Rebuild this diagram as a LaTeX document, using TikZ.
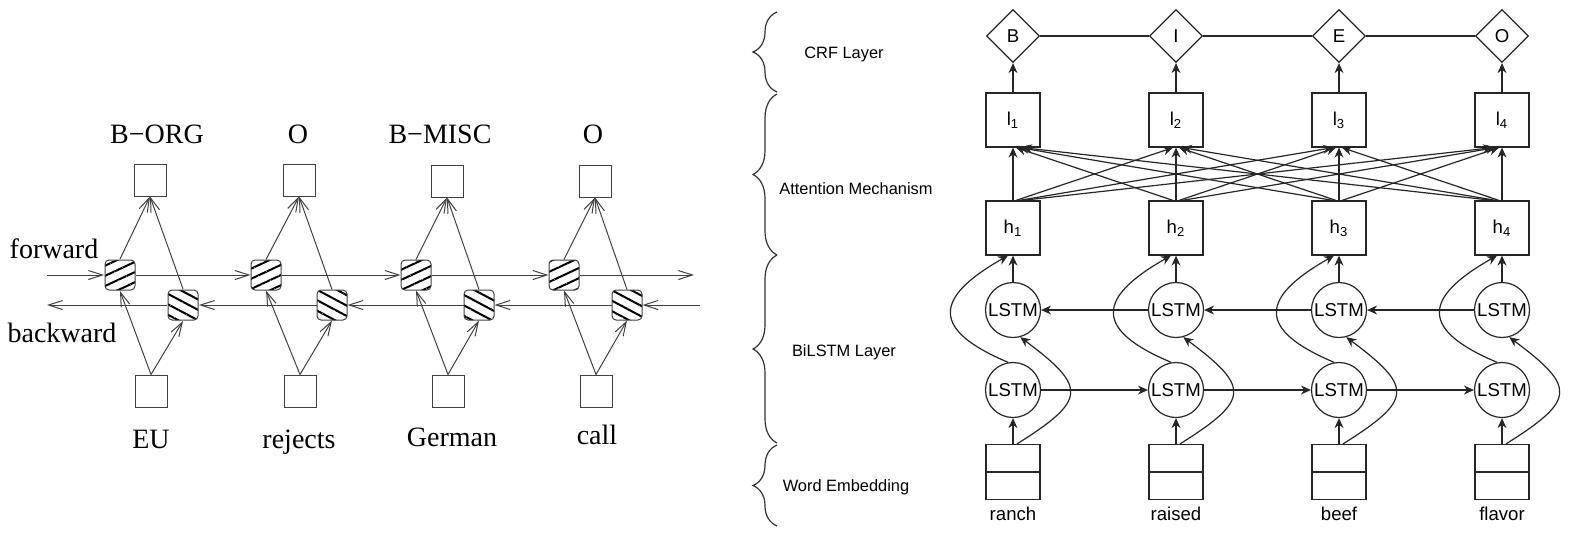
\documentclass[tikz,border=0pt]{standalone}
\usepackage{fontspec}
\setmainfont{Liberation Serif}
\setsansfont{Liberation Sans}
\usetikzlibrary{shapes.geometric, arrows.meta, positioning, calc, patterns.meta, decorations.pathreplacing}
\tikzset{
  tag box/.style={
    rectangle, draw=black!75, line width=0.5pt,
    minimum size=16pt, inner sep=0pt
  },
  fw cell/.style={
    rectangle, rounded corners=2pt, draw=black!75, line width=0.5pt,
    minimum size=15pt, inner sep=0pt,
    pattern={Lines[angle=25, distance=4.6pt, line width=1pt]}
  },
  bw cell/.style={
    fw cell, pattern={Lines[angle=-28, distance=4.6pt, line width=1pt]}
  },
  seq text/.style={
    font=\fontsize{14}{16}\selectfont, inner sep=0pt, anchor=base
  },
  seq arrow/.style={
    -{Straight Barb[length=7pt, width=4.5pt]}, draw=black!75, line width=0.5pt
  },
  crf node/.style={
    diamond, aspect=1, draw=black!85, line width=0.6pt,
    minimum size=26.5pt, inner sep=0pt,
    font=\sffamily\fontsize{9.3}{11}\selectfont
  },
  att box/.style={
    rectangle, draw=black!85, line width=0.6pt,
    minimum size=27pt, inner sep=0pt,
    font=\sffamily\fontsize{9.3}{11}\selectfont
  },
  lstm node/.style={
    circle, draw=black!85, line width=0.6pt,
    minimum size=27.5pt, inner sep=0pt,
    font=\sffamily\fontsize{9.3}{11}\selectfont
  },
  word text/.style={
    font=\sffamily\fontsize{9.3}{11}\selectfont, inner sep=0pt, anchor=base
  },
  layer text/.style={
    font=\sffamily\fontsize{8.2}{10}\selectfont, inner sep=0pt, anchor=base
  },
  layer brace/.style={
    decorate, decoration={brace, amplitude=12pt}, draw=black!80, line width=0.6pt
  },
  nn arrow/.style={
    -{Stealth[length=5pt, width=4.5pt]}, draw=black!85, line width=0.6pt
  },
  crf line/.style={
    draw=black!85, line width=0.6pt
  }
}

\begin{document}
\begin{tikzpicture}[x=0.5pt, y=-0.5pt]
  \useasboundingbox (0,0) rectangle (1574,538);

  % Left: bidirectional tagger
  \node (out1) [tag box] at (150,180) {};
  \node (out2) [tag box] at (299,180) {};
  \node (out3) [tag box] at (447,181) {};
  \node (out4) [tag box] at (595,181) {};
  \node (lab1) [seq text] at (157,143) {B−ORG};
  \node (lab2) [seq text] at (298,143) {O};
  \node (lab3) [seq text] at (440,143) {B−MISC};
  \node (lab4) [seq text] at (593,143) {O};

  \node (fcell1) [fw cell] at (120,275) {};
  \node (fcell2) [fw cell] at (266,275) {};
  \node (fcell3) [fw cell] at (416,275) {};
  \node (fcell4) [fw cell] at (564,275) {};
  \node (bcell1) [bw cell] at (183,305) {};
  \node (bcell2) [bw cell] at (332,305) {};
  \node (bcell3) [bw cell] at (479,305) {};
  \node (bcell4) [bw cell] at (627,305) {};

  \node (in1) [tag box] at (151,391) {};
  \node (in2) [tag box] at (300,391) {};
  \node (in3) [tag box] at (448,391) {};
  \node (in4) [tag box] at (596,391) {};
  \node (tok1) [seq text] at (151,448) {EU};
  \node (tok2) [seq text] at (299,448) {rejects};
  \node (tok3) [seq text] at (452,446) {German};
  \node (tok4) [seq text] at (597,444) {call};

  \node (fwlab) [seq text] at (54,258) {forward};
  \node (bwlab) [seq text] at (62,342) {backward};
  \coordinate (fstart) at (47,275);
  \coordinate (fend) at (694,275);
  \coordinate (bstart) at (700,305);
  \coordinate (bend) at (47,305);

  \draw [seq arrow] (fstart) -- (fcell1);
  \draw [seq arrow] (fcell1) -- (fcell2);
  \draw [seq arrow] (fcell2) -- (fcell3);
  \draw [seq arrow] (fcell3) -- (fcell4);
  \draw [seq arrow] (fcell4) -- (fend);
  \draw [seq arrow] (bstart) -- (bcell4);
  \draw [seq arrow] (bcell4) -- (bcell3);
  \draw [seq arrow] (bcell3) -- (bcell2);
  \draw [seq arrow] (bcell2) -- (bcell1);
  \draw [seq arrow] (bcell1) -- (bend);
  \foreach \k in {1,...,4} {
    \draw [seq arrow] (in\k.north) -- (fcell\k.south);
    \draw [seq arrow] (in\k.north) -- (bcell\k.south);
    \draw [seq arrow] (fcell\k.north) -- (out\k.south);
    \draw [seq arrow] (bcell\k.north) -- (out\k.south);
  }

  % Right: BiLSTM-attention-CRF
  \draw [layer brace] (777,92) -- (777,12);
  \draw [layer brace] (777,255) -- (777,94);
  \draw [layer brace] (777,443) -- (777,255);
  \draw [layer brace] (777,526) -- (777,445);
  \node (crflab) [layer text] at (844,58) {CRF Layer};
  \node (attlab) [layer text] at (856,194) {Attention Mechanism};
  \node (rnnlab) [layer text] at (844,356) {BiLSTM Layer};
  \node (emblab) [layer text] at (846,491) {Word Embedding};

  \foreach \x/\t/\w [count=\k] in {1013/B/ranch, 1176/I/raised, 1339/E/beef, 1502/O/flavor} {
    \node (tag\k) [crf node] at (\x,36) {\t};
    \node (att\k) [att box] at (\x,120) {l\textsubscript{\k}};
    \node (hid\k) [att box] at (\x,228) {h\textsubscript{\k}};
    \node (bwd\k) [lstm node] at (\x,310) {LSTM};
    \node (fwd\k) [lstm node] at (\x,390) {LSTM};
    \node (emb\k) [att box, minimum height=27.5pt] at (\x,472) {};
    \node (word\k) [word text] at (\x,520) {\w};
  }

  \draw [crf line] (tag1) -- (tag2) -- (tag3) -- (tag4);
  \foreach \k in {1,...,4} {
    \draw [crf line] (emb\k.west) -- (emb\k.east);
    \draw [nn arrow] (att\k) -- (tag\k);
    \draw [nn arrow] (bwd\k) -- (hid\k);
    \draw [nn arrow] (emb\k) -- (fwd\k);
    \draw [nn arrow] ($(emb\k.north)+(4,0)$) .. controls +(70,-44) and +(67,50) .. (bwd\k.-75);
    \draw [nn arrow] (fwd\k.100) .. controls +(-76,-32) and +(-76,43) .. ($(hid\k.south)+(-5,0)$);
  }
  \foreach \k/\n in {1/2, 2/3, 3/4} {
    \draw [nn arrow] (fwd\k) -- (fwd\n);
    \draw [nn arrow] (bwd\n) -- (bwd\k);
  }
  \foreach \i in {1,...,4}
    \foreach \j in {1,...,4}
      \draw [nn arrow] ($(hid\i.north)+({3*(\j-\i)},0)$) -- ($(att\j.south)+({3*(\i-\j)},0)$);
\end{tikzpicture}
\end{document}
